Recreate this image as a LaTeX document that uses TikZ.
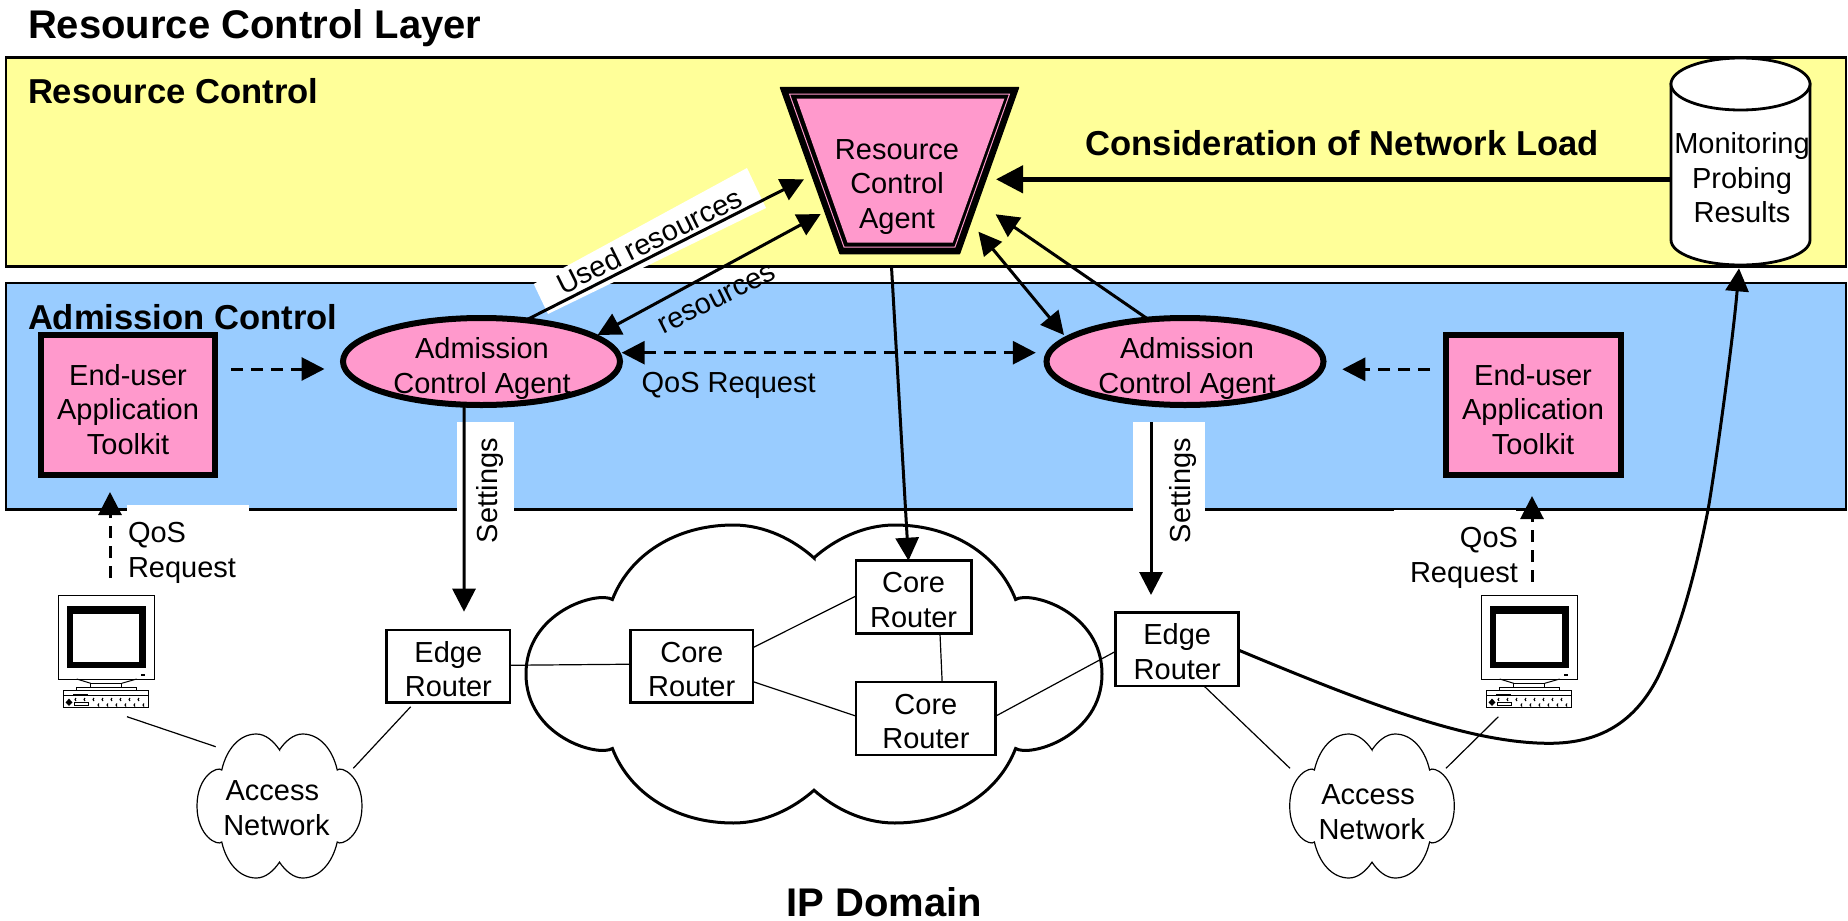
\documentclass[tikz,border=0pt]{standalone}
\usepackage{fontspec}
\setmainfont{Liberation Sans}
\usetikzlibrary{arrows.meta,shapes.geometric}
\definecolor{ryellow}{HTML}{FFFF99}
\definecolor{rblue}{HTML}{99CCFF}
\definecolor{rpink}{HTML}{FF99CC}
\newcommand{\rtop}{\rule{0pt}{26.5pt}}
\newcommand{\rtopk}{\rule{0pt}{30pt}}
\newcommand{\cloudshape}{(0,-.78) .. controls (.07,-.90) and (.17,-1) .. (.28,-1)
 .. controls (.48,-1) and (.64,-.80) .. (.70,-.50)
 .. controls (.75,-.56) and (1,-.42) .. (1,0)
 .. controls (1,.42) and (.75,.56) .. (.70,.50)
 .. controls (.64,.80) and (.48,1) .. (.28,1)
 .. controls (.17,1) and (.07,.90) .. (0,.78)
 .. controls (-.07,.90) and (-.17,1) .. (-.28,1)
 .. controls (-.48,1) and (-.64,.80) .. (-.70,.50)
 .. controls (-.75,.56) and (-1,.42) .. (-1,0)
 .. controls (-1,-.42) and (-.75,-.56) .. (-.70,-.50)
 .. controls (-.64,-.80) and (-.48,-1) .. (-.28,-1)
 .. controls (-.17,-1) and (-.07,-.90) .. cycle}
\newcommand{\pcglyph}[1]{%
 \begin{scope}[shift={(#1,595)},line width=1pt]
  \draw[fill=white] (0,0) rectangle (96,84);
  \fill[black] (9,11) rectangle (88,73);
  \fill[white] (15,19) rectangle (81,67);
  \fill[black] (82.5,79) rectangle (87,81);
  \draw (18.7,84) -- (32.7,88.3) (63.7,88.3) -- (78.7,84);
  \draw (32.7,88.3) rectangle (63.7,92.3);
  \draw (18,92.3) rectangle (78.7,95.7);
  \draw (5.3,95.7) rectangle (90.3,112.3);
  \draw (5.3,100) -- (90.3,100);
  \fill[black] (15.3,99) rectangle (30.3,101.2);
  \fill[black] (11,103.7) -- (14.5,107.3) -- (11,111) -- (7.5,107.3) -- cycle;
  \draw (16,107.3) rectangle (30.3,110.7);
  \foreach \k in {17,26,...,86} \draw (\k+1,103) -- (\k,104.5) -- (\k+1,106);
  \foreach \k in {40,49,...,86} \draw (\k+1,108.5) -- (\k,110) -- (\k+1,111.5);
 \end{scope}}
\tikzset{
 tipS/.tip={Triangle[length=23pt,width=23pt,sep=0pt]},
 tipB/.tip={Triangle[length=27pt,width=27pt,sep=0pt]},
 layerbox/.style={line width=2.6pt,draw=black},
 txt/.style={inner sep=0pt,outer sep=0pt,font=\fontsize{29}{34.7}\selectfont,align=center},
 boldtxt/.style={inner sep=0pt,outer sep=0pt,font=\fontsize{34.6}{40}\selectfont\bfseries,anchor=base west},
 titletxt/.style={inner sep=0pt,outer sep=0pt,font=\fontsize{40}{46}\selectfont\bfseries,anchor=base west},
 router/.style={txt,draw,line width=2.7pt,fill=white},
 toolkit/.style={txt,draw,line width=6pt,fill=rpink},
 agent/.style={ellipse,draw,line width=6pt,fill=rpink,inner sep=0pt,outer sep=0pt,minimum width=277pt,minimum height=87pt},
 flow/.style={line width=3pt,-tipS},
 flowboth/.style={line width=3pt,tipS-tipS},
 reqflow/.style={flow,dash pattern=on 12pt off 8pt},
 reqboth/.style={flowboth,dash pattern=on 12pt off 8pt},
 thinlink/.style={line width=1.2pt},
 whitepatch/.style={fill=white,draw=none}
}
\begin{document}
\begin{tikzpicture}[x=1pt,y=-1pt]
\useasboundingbox (0,0) rectangle (1848,921);
% layers
\draw[layerbox,fill=ryellow] (6,57.5) rectangle (1846,266.5);
\draw[layerbox,fill=rblue] (6,283) rectangle (1846,509.5);
% white patches
\fill[whitepatch] (747,168) -- (766,208) -- (548,314) -- (533.7,284) -- cycle;
\fill[whitepatch] (457,422) rectangle (513.5,513);
\fill[whitepatch] (1133,422) rectangle (1205,513);
\fill[whitepatch] (127,505) rectangle (249,590);
\fill[whitepatch] (1393.5,509.7) rectangle (1516,590);
% titles
\node[titletxt] (tLayer) at (28,38) {Resource Control Layer};
\node[boldtxt] (tRes) at (28,103) {Resource Control};
\node[boldtxt] (tAdm) at (28,329) {Admission Control};
\node[boldtxt] (tLoad) at (1085.5,155) {Consideration of Network Load};
\node[titletxt] (tIP) at (786.5,916) {IP Domain};
% Resource control agent
\fill[black,draw=black,line width=1.5pt,line join=round] (780.5,87.5) -- (1018.5,87.5) -- (959.5,253.5) -- (840,253.5) -- cycle;
\draw[rpink,line width=1pt] (789.5,94) -- (1009.5,94) -- (955,247) -- (844,247) -- cycle;
\fill[rpink] (796.6,98.5) -- (1004.4,98.5) -- (952.7,242.7) -- (847.5,242.7) -- cycle;
\node[txt] (rca) at (897,186.8) {Resource\\Control\\Agent};
% database
\draw[line width=2.8pt,fill=white] (1671,84) -- (1671,240) .. controls (1671,253.8) and (1702,265) .. (1740.5,265) .. controls (1779,265) and (1810,253.8) .. (1810,240) -- (1810,84) -- cycle;
\node[ellipse,draw,line width=2.8pt,fill=white,inner sep=0pt,outer sep=0pt,minimum width=139pt,minimum height=52pt] (dbTop) at (1740.5,84) {};
\coordinate (dbW) at (1671,179.3);
\coordinate (dbS) at (1739,268.3);
\node[txt] (mon) at (1742,177.8) {Monitoring\\Probing\\Results};
% agents and toolkits
\node[toolkit,minimum width=174pt,minimum height=140pt] (toolL) at (128,405) {\rtopk End-user\\Application\\Toolkit};
\node[toolkit,minimum width=175pt,minimum height=139.4pt] (toolR) at (1533,405) {\rtopk End-user\\Application\\Toolkit};
\node[agent] (acaL) at (481.5,361.5) {};
\node[agent] (acaR) at (1185,361.5) {};
\node[txt] (acaLt) at (482,368.4) {Admission\\Control Agent};
\node[txt] (acaRt) at (1187,368.8) {Admission\\Control Agent};
% IP cloud
\begin{scope}[shift={(814,674)},xscale=288,yscale=149]
 \draw[line width=3pt,fill=white] \cloudshape;
\end{scope}
\begin{scope}[shift={(279.5,806)},xscale=82.5,yscale=72]
 \draw[line width=1.2pt,fill=white] \cloudshape;
\end{scope}
\begin{scope}[shift={(1372,806)},xscale=82.3,yscale=72]
 \draw[line width=1.2pt,fill=white] \cloudshape;
\end{scope}
\node[txt,align=left,anchor=west] (netL) at (223.3,808.4) {\hspace*{2.3pt}Access\\Network};
\node[txt,align=left,anchor=west] (netR) at (1318.5,812.4) {\hspace*{2.8pt}Access\\Network};
% routers
\node[router,minimum width=123.3pt,minimum height=72.7pt] (edgeL) at (448.35,666.35) {\rtop Edge\\Router};
\node[router,minimum width=123.1pt,minimum height=73.7pt] (edgeR) at (1177.25,649.15) {\rtop Edge\\Router};
\node[router,minimum width=122.5pt,minimum height=72.7pt] (coreA) at (691.75,666.35) {\rtop Core\\Router};
\node[router,minimum width=115.4pt,minimum height=72.6pt] (coreB) at (913.6,597) {\rtop Core\\Router};
\node[router,minimum width=139.8pt,minimum height=73pt] (coreC) at (925.9,718.5) {\rtop Core\\Router};
% computers
\pcglyph{58}
\pcglyph{1481}
\coordinate (pcLs) at (127,716.7);
\coordinate (pcRs) at (1498.4,716.7);
\coordinate (pcLn) at (110,578);
\coordinate (pcRn) at (1532,581.7);
\coordinate (toolLs) at (110,492);
\coordinate (toolRs) at (1532,496);
\coordinate (netLa) at (215.7,746.7);
\coordinate (netLb) at (353.3,768.3);
\coordinate (netRa) at (1290,768.3);
\coordinate (netRb) at (1446,768.3);
\coordinate (edgeLs) at (410.7,706.7);
% thin links
\draw[thinlink] (edgeL.1.25) -- (coreA.178.7);
\draw[thinlink] (coreA.17.8) -- (coreB.179);
\draw[thinlink] (coreA.-14.9) -- (coreC.178.5);
\draw[thinlink] (coreB.-54.3) -- (coreC.66.2);
\draw[thinlink] (coreC.2.3) -- (edgeR.182.4);
\draw[thinlink] (pcLs) -- (netLa);
\draw[thinlink] (netLb) -- (edgeLs);
\draw[thinlink] (edgeR.-54.5) -- (netRa);
\draw[thinlink] (netRb) -- (pcRs);
% dashed request flows
\coordinate (toolLe) at (231,369);
\coordinate (acaLw) at (324.5,369);
\coordinate (acaRe) at (1342.3,369.3);
\coordinate (toolRw) at (1430,369.3);
\coordinate (acaLe) at (621.7,352.7);
\coordinate (acaRw) at (1035.8,352.7);
\draw[reqflow] (toolLe) -- (acaLw);
\draw[reqflow] (toolRw) -- (acaRe);
\draw[reqboth] (acaLe) -- (acaRw);
\draw[reqflow] (pcLn) -- (toolLs);
\draw[reqflow] (pcRn) -- (toolRs);
% agent links
\coordinate (rcaSW1) at (804,179.3);
\coordinate (rcaSW2) at (820.7,214);
\coordinate (rcaSE1) at (978.4,231.7);
\coordinate (rcaSE2) at (995.6,214.3);
\coordinate (rcaE) at (996,179.3);
\coordinate (rcaS) at (891.5,267);
\coordinate (acaLne) at (597.6,335);
\coordinate (acaRnw) at (1064,335);
\draw[flow] (acaL.43) -- (rcaSW1);
\draw[flowboth] (acaLne) -- (rcaSW2);
\draw[flowboth] (rcaSE1) -- (acaRnw);
\draw[flow] (acaR.131.5) -- (rcaSE2);
\draw[line width=4.5pt,-tipB] (dbW) -- (rcaE);
\draw[flow] (rcaS) -- (coreB.98);
\coordinate (setLtip) at (464,611.7);
\coordinate (setRtop) at (1151,422);
\coordinate (setRtip) at (1151,595);
\draw[flow] (acaL.-112) -- (setLtip);
\draw[flow] (setRtop) -- (setRtip);
\coordinate (curveA) at (1548.5,743.3);
\coordinate (curveB) at (1658,677);
\coordinate (curveC) at (1708,510);
\draw[flow] (edgeR.-1.7) .. controls (1370,705) and (1470,743) .. (curveA)
 .. controls (1600,743.5) and (1635,722) .. (curveB)
 .. controls (1685,620) and (1700,550) .. (curveC)
 .. controls (1715,470) and (1733,340) .. (dbS);
% labels
\node[txt,anchor=base,rotate=26.5] (lUsed) at (654,250) {Used resources};
\node[txt,anchor=base,rotate=26.5] (lRes) at (720.5,306) {resources};
\node[txt,anchor=base west] (lQos) at (641.6,392.7) {QoS Request};
\node[txt,anchor=base west,rotate=90] (lSetL) at (497,543) {Settings};
\node[txt,anchor=base west,rotate=90] (lSetR) at (1190.6,543) {Settings};
\node[txt,align=left,anchor=west] (lReqL) at (128,553) {QoS\\Request};
\node[txt,align=right,anchor=east] (lReqR) at (1518,557.7) {QoS\\Request};
\end{tikzpicture}
\end{document}
